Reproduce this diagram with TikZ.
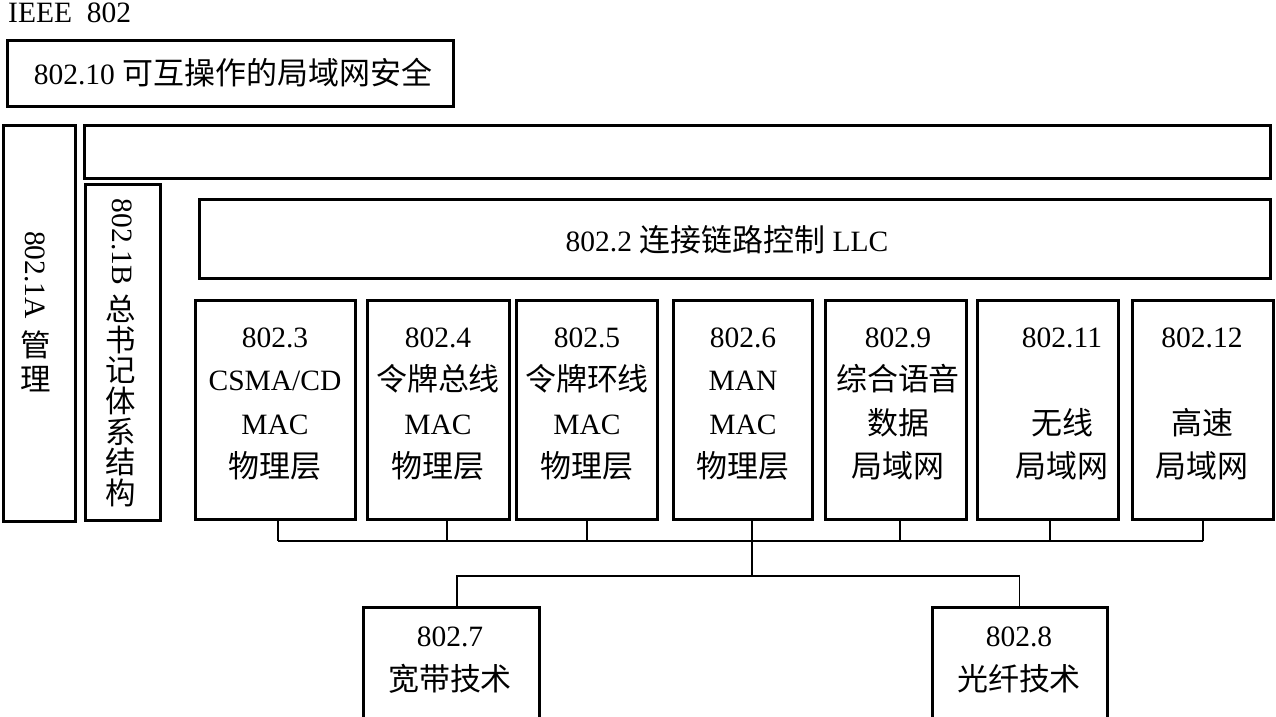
\documentclass[tikz,border=0pt]{standalone}
\usepackage{fontspec}
\setmainfont{Liberation Serif}
\newfontfamily\cjkf[Scale=1.05]{Noto Sans CJK SC}
\newcommand\zh[1]{{\cjkf #1}}
\begin{document}
\begin{tikzpicture}[x=1pt,y=-1pt,
  box/.style={draw,line width=3pt,inner sep=0pt,outer sep=0pt},
  txt/.style={font=\fontsize{29.5}{43.5}\selectfont,align=center,inner sep=0pt},
  conn/.style={line width=1.4pt}]
\useasboundingbox (0,0) rectangle (1276,716);

\node[txt,anchor=base west] (ieee) at (8,22) {IEEE~~802};

\node[box,minimum width=446,minimum height=66] (b10) at (230,73) {};
\node[txt] (t10) at (233,73) {802.10 \zh{可互操作的局域网安全}};

\node[box,minimum width=72,minimum height=396] (b1a) at (39,323) {};
\node[txt,rotate=-90] (t1a) at (35,275) {802.1A};
\node[txt,font=\fontsize{29}{34}\selectfont] (c1a) at (36,361) {\zh{管}\\\zh{理}};

\node[box,minimum width=1186,minimum height=53] (btop) at (677,151.5) {};

\node[box,minimum width=75,minimum height=336] (b1b) at (122.5,352) {};
\node[txt,rotate=-90] (t1b) at (122.5,242) {802.1B};
\node[txt,font=\fontsize{29}{30.7}\selectfont] (c1b) at (121,401)
  {\zh{总}\\\zh{书}\\\zh{记}\\\zh{体}\\\zh{系}\\\zh{结}\\\zh{构}};

\node[box,minimum width=1071,minimum height=79] (bllc) at (734.5,238.5) {};
\node[txt] (tllc) at (727,240) {802.2 \zh{连接链路控制} LLC};

\foreach \n/\cx/\w in {b3/275/160,b4/438/142,b5/586.5/141,b6/742.5/139,b9/895.5/141,b11/1047.5/141,b12/1202.5/141}
  \node[box,minimum width=\w,minimum height=219] (\n) at (\cx,409.5) {};

\node[txt] (t3) at (275,404) {802.3\\CSMA/CD\\MAC\\\zh{物理层}};
\node[txt] (t4) at (438,404) {802.4\\\zh{令牌总线}\\MAC\\\zh{物理层}};
\node[txt] (t5) at (587,404) {802.5\\\zh{令牌环线}\\MAC\\\zh{物理层}};
\node[txt] (t6) at (743,404) {802.6\\MAN\\MAC\\\zh{物理层}};
\node[txt] (t9) at (898,404) {802.9\\\zh{综合语音}\\\zh{数据}\\\zh{局域网}};
\node[txt] (t11) at (1062,404) {802.11\\\mbox{}\\\zh{无线}\\\zh{局域网}};
\node[txt] (t12) at (1202,404) {802.12\\\mbox{}\\\zh{高速}\\\zh{局域网}};

\node[box,minimum width=176,minimum height=115] (b7) at (451,664.5) {};
\node[txt] (t7) at (450,660) {802.7\\\zh{宽带技术}};
\node[box,minimum width=175,minimum height=115] (b8) at (1019.5,664.5) {};
\node[txt] (t8) at (1019,660) {802.8\\\zh{光纤技术}};

\coordinate (bus) at (0,541);
\coordinate (mid) at (0,576);
\foreach \n/\dx in {b3/3,b4/9,b5/0.5,b6/9.5,b9/4.5,b11/2.5,b12/0.5}
  \draw[conn] ([xshift=\dx]\n.south) -- ([xshift=\dx]\n.south |- bus);
\draw[conn] ([xshift=3]b3.south |- bus) -- ([xshift=0.5]b12.south |- bus);
\draw[conn] ([xshift=9.5]b6.south |- bus) -- ([xshift=9.5]b6.south |- mid);
\draw[conn] ([xshift=6]b7.north) -- ([xshift=6]b7.north |- mid) -- (b8.north |- mid) -- (b8.north);
\end{tikzpicture}
\end{document}
